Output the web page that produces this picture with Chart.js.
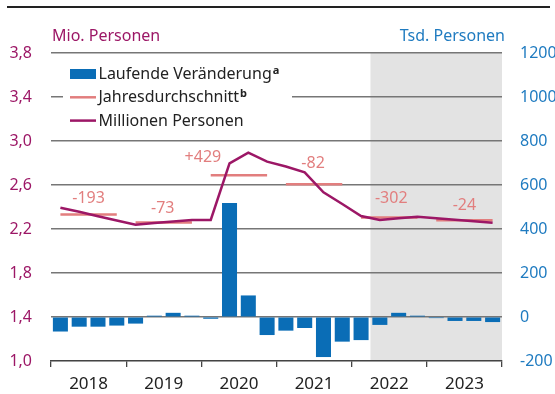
<!DOCTYPE html>
<html lang="de">
<head>
<meta charset="utf-8">
<title>Arbeitslose</title>
<script src="https://cdn.jsdelivr.net/npm/chart.js@4.4.1/dist/chart.umd.min.js"></script>
<style>
  html, body { margin: 0; padding: 0; background: #fff; }
  .chart-container { position: relative; width: 555px; height: 394px; }
  .rule { position: absolute; left: 7px; right: 5px; top: 6px; border-top: 2px solid #222; }
</style>
</head>
<body>
<div class="chart-container">
  <canvas id="personenChart" width="555" height="394"></canvas>
  <div class="rule"></div>
</div>
<script>
const years = ['2018', '2019', '2020', '2021', '2022', '2023'];

// quarterly change, Tsd. Personen (right axis)
const quarterlyChange = [
  -66, -44, -44, -39,
  -30, 6, 19, 6,
  -8, 518, 98, -82,
  -62, -50, -182, -112,
  -105, -36, 19, 6,
  -5, -18, -18, -23
];

// level, Mio. Personen (left axis)
const millionPersons = [
  2.394, 2.356, 2.316, 2.277,
  2.239, 2.255, 2.268, 2.282,
  2.282, 2.797, 2.894, 2.812,
  2.768, 2.715, 2.534, 2.427,
  2.318, 2.282, 2.297, 2.312,
  2.298, 2.285, 2.271, 2.257
];

const annualAverage = [2.332, 2.259, 2.688, 2.606, 2.304, 2.280];
const annualChange = ['-193', '-73', '+429', '-82', '-302', '-24'];

// forecast starts with 2022 Q2 (quarter index 17)
const forecastFromQuarter = 17;

const footnoteMarks = ['a', 'b', ''];

const BLUE = '#0a6db6';
const SALMON = '#e27e7e';
const MAGENTA = '#9c1766';
const FONT = "'Noto Sans', sans-serif";

const barData = quarterlyChange.map((v, i) => ({ x: i + 0.5, y: v }));
const lineData = millionPersons.map((v, i) => ({ x: i + 0.5, y: v }));
const avgData = annualAverage.flatMap((v, i) => [
  { x: i * 4 + 0.5, y: v },
  { x: i * 4 + 3.5, y: v },
  { x: i * 4 + 4, y: null }
]);

const forecastShade = {
  id: 'forecastShade',
  beforeDraw(chart) {
    const { ctx, chartArea, scales } = chart;
    const x0 = scales.x.getPixelForValue(forecastFromQuarter);
    ctx.save();
    ctx.fillStyle = '#e3e3e3';
    ctx.fillRect(x0, chartArea.top, chartArea.right - x0, chartArea.bottom - chartArea.top);
    ctx.restore();
  }
};

const legendBox = {
  id: 'legendBox',
  beforeDatasetsDraw(chart) {
    const { ctx, chartArea } = chart;
    const left = chartArea.left + 12;
    const top = chartArea.top + 8;
    ctx.save();
    ctx.fillStyle = '#fff';
    ctx.fillRect(left, top, 229, 72);
    chart.data.datasets.forEach((ds, i) => {
      const cy = chartArea.top + 21 + i * 23.3;
      const sx = left + 7;
      if (ds.type === 'line') {
        ctx.strokeStyle = ds.borderColor;
        ctx.lineWidth = 2.5;
        ctx.beginPath();
        ctx.moveTo(sx, cy);
        ctx.lineTo(sx + 26, cy);
        ctx.stroke();
      } else {
        ctx.fillStyle = ds.backgroundColor;
        ctx.fillRect(sx, cy - 5, 26, 10);
      }
      ctx.fillStyle = '#222';
      ctx.font = '16px ' + FONT;
      ctx.textAlign = 'left';
      ctx.textBaseline = 'alphabetic';
      const tx = sx + 28.5;
      ctx.fillText(ds.label, tx, cy + 5);
      if (footnoteMarks[i]) {
        const w = ctx.measureText(ds.label).width;
        ctx.font = 'bold 11px ' + FONT;
        ctx.fillText(footnoteMarks[i], tx + w + 1, cy);
      }
    });
    ctx.restore();
  }
};

// yearly change written above each annual-average segment
const labelOffsets = [[0, -16], [-1, -14], [-36, -18], [-1, -21], [2, -19], [0, -15]];

const annualLabels = {
  id: 'annualLabels',
  afterDatasetsDraw(chart) {
    const { ctx, scales } = chart;
    ctx.save();
    ctx.fillStyle = SALMON;
    ctx.font = '16px ' + FONT;
    ctx.textAlign = 'center';
    ctx.textBaseline = 'middle';
    annualChange.forEach((text, i) => {
      const x = scales.x.getPixelForValue(i * 4 + 2) + labelOffsets[i][0];
      const y = scales.y.getPixelForValue(annualAverage[i]) + labelOffsets[i][1];
      ctx.fillText(text, x, y);
    });
    ctx.restore();
  }
};

const axisTitles = {
  id: 'axisTitles',
  afterDraw(chart) {
    const { ctx, chartArea } = chart;
    ctx.save();
    ctx.font = '16px ' + FONT;
    ctx.textBaseline = 'alphabetic';
    ctx.fillStyle = MAGENTA;
    ctx.textAlign = 'left';
    ctx.fillText('Mio. Personen', chartArea.left + 1, 40.5);
    ctx.fillStyle = '#1f7bc0';
    ctx.textAlign = 'right';
    ctx.fillText('Tsd. Personen', chartArea.right + 3, 41);
    ctx.restore();
  }
};

new Chart(document.getElementById('personenChart'), {
  type: 'bar',
  data: {
    datasets: [
      {
        label: 'Laufende Veränderung',
        data: barData,
        yAxisID: 'yR',
        backgroundColor: BLUE,
        categoryPercentage: 1,
        barPercentage: 0.8,
        order: 2
      },
      {
        type: 'line',
        label: 'Jahresdurchschnitt',
        data: avgData,
        yAxisID: 'y',
        borderColor: SALMON,
        borderWidth: 2.5,
        pointRadius: 0,
        spanGaps: false,
        order: 1
      },
      {
        type: 'line',
        label: 'Millionen Personen',
        data: lineData,
        yAxisID: 'y',
        borderColor: MAGENTA,
        borderWidth: 2.5,
        pointRadius: 0,
        tension: 0,
        order: 0
      }
    ]
  },
  options: {
    responsive: false,
    animation: false,
    layout: { padding: { top: 53, left: 0, right: 0, bottom: 0 } },
    plugins: {
      legend: { display: false },
      tooltip: { enabled: false }
    },
    scales: {
      x: {
        type: 'linear',
        min: 0,
        max: 24,
        offset: false,
        grid: {
          offset: false,
          drawOnChartArea: false,
          drawTicks: true,
          tickLength: 6,
          lineWidth: 1.3,
          color: ctx => (ctx.tick && ctx.tick.value % 4 === 0 ? '#444' : 'rgba(0,0,0,0)')
        },
        border: { display: true, color: '#444', width: 1.3 },
        ticks: {
          stepSize: 2,
          autoSkip: false,
          maxRotation: 0,
          padding: 7,
          color: '#222',
          font: { family: FONT, size: 17 },
          callback: value => (value % 4 === 2 ? years[(value - 2) / 4] : '')
        },
        afterFit: scale => { scale.height = 33; }
      },
      y: {
        position: 'left',
        min: 1.0,
        max: 3.8,
        grid: { color: '#767676', lineWidth: 1.4, drawTicks: false },
        border: { display: false },
        ticks: {
          stepSize: 0.4,
          padding: 19,
          color: MAGENTA,
          font: { family: FONT, size: 16 },
          callback: value => value.toFixed(1).replace('.', ',')
        },
        afterFit: scale => { scale.width = 51; }
      },
      yR: {
        position: 'right',
        min: -200,
        max: 1200,
        grid: { drawOnChartArea: false, drawTicks: false },
        border: { display: false },
        ticks: {
          stepSize: 200,
          padding: 18,
          color: '#1f7bc0',
          font: { family: FONT, size: 16 },
          callback: value => String(value)
        },
        afterFit: scale => { scale.width = 53; }
      }
    }
  },
  plugins: [forecastShade, legendBox, annualLabels, axisTitles]
});
</script>
</body>
</html>
